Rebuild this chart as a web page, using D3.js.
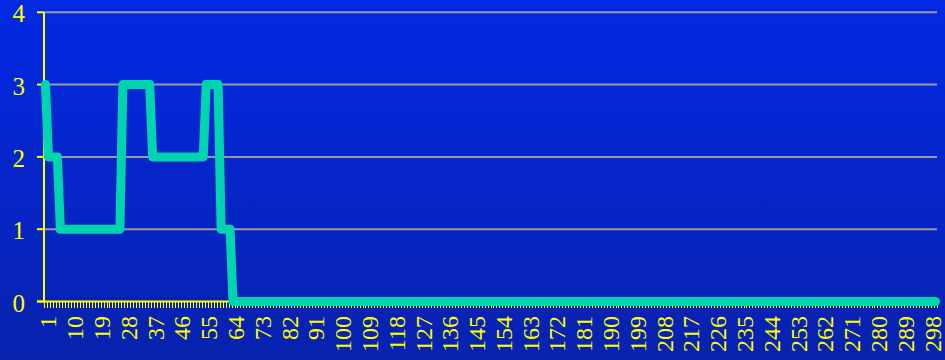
<!DOCTYPE html>
<html><head><meta charset="utf-8">
<script src="https://cdn.jsdelivr.net/npm/d3@7"></script>
<style>html,body{margin:0;padding:0;background:#0325d0;overflow:hidden}</style>
</head><body><svg id="c" width="945" height="360"></svg>
<script>
// ---- data ----
const categories = d3.range(1, 301);
const values = [
  3,2,2,2,2,1,1,1,1,1,
  1,1,1,1,1,1,1,1,1,1,
  1,1,1,1,1,1,3,3,3,3,
  3,3,3,3,3,3,2,2,2,2,
  2,2,2,2,2,2,2,2,2,2,
  2,2,2,2,3,3,3,3,3,1,
  1,1,1,0,0,0,0,0,0,0,
  0,0,0,0,0,0,0,0,0,0,
  0,0,0,0,0,0,0,0,0,0,
  0,0,0,0,0,0,0,0,0,0,
  0,0,0,0,0,0,0,0,0,0,
  0,0,0,0,0,0,0,0,0,0,
  0,0,0,0,0,0,0,0,0,0,
  0,0,0,0,0,0,0,0,0,0,
  0,0,0,0,0,0,0,0,0,0,
  0,0,0,0,0,0,0,0,0,0,
  0,0,0,0,0,0,0,0,0,0,
  0,0,0,0,0,0,0,0,0,0,
  0,0,0,0,0,0,0,0,0,0,
  0,0,0,0,0,0,0,0,0,0,
  0,0,0,0,0,0,0,0,0,0,
  0,0,0,0,0,0,0,0,0,0,
  0,0,0,0,0,0,0,0,0,0,
  0,0,0,0,0,0,0,0,0,0,
  0,0,0,0,0,0,0,0,0,0,
  0,0,0,0,0,0,0,0,0,0,
  0,0,0,0,0,0,0,0,0,0,
  0,0,0,0,0,0,0,0,0,0,
  0,0,0,0,0,0,0,0,0,0,
  0,0,0,0,0,0,0,0,0,0
];
const xTickLabels = [1,10,19,28,37,46,55,64,73,82,91,100,109,118,127,136,145,154,163,172,181,190,199,208,217,226,235,244,253,262,271,280,289,298];
const yTicks = [0,1,2,3,4];

// ---- layout ----
const W = 945, H = 360;
const svg = d3.select("#c");
const defs = svg.append("defs");
const grad = defs.append("linearGradient").attr("id","bg").attr("x1",0).attr("y1",0).attr("x2",0).attr("y2",1);
grad.append("stop").attr("offset","0%").attr("stop-color","#0329e4");
grad.append("stop").attr("offset","100%").attr("stop-color","#0822ae");
svg.append("rect").attr("width",W).attr("height",H).attr("fill","url(#bg)");

const x = d3.scaleBand().domain(categories).range([44, 937]);
const y = d3.scaleLinear().domain([0, 4]).range([301.5, 12.3]);
const yellow = "#ffff00";
const font = "'Liberation Serif','Times New Roman',serif";

// gridlines
svg.append("g").selectAll("line").data(yTicks.filter(d => d > 0)).join("line")
  .attr("x1", 44).attr("x2", 937)
  .attr("y1", d => y(d)).attr("y2", d => y(d))
  .attr("stroke", "#9a9aa6").attr("stroke-width", 2);

// y ticks
svg.append("g").selectAll("line").data(yTicks).join("line")
  .attr("x1", 37).attr("x2", 44)
  .attr("y1", d => y(d)).attr("y2", d => y(d))
  .attr("stroke", yellow).attr("stroke-width", 2);
// y labels
svg.append("g").selectAll("text").data(yTicks).join("text")
  .attr("x", 25).attr("y", d => y(d) + 1.5)
  .attr("text-anchor", "end").attr("dominant-baseline", "central")
  .attr("fill", yellow).attr("font-family", font).attr("font-size", 25)
  .text(d => d);

// x minor ticks at category boundaries
const bounds = categories.map(c => x(c)).concat([x.range()[1]]);
svg.append("g").selectAll("line").data(bounds).join("line")
  .attr("x1", d => Math.round(d) + 0.5).attr("x2", d => Math.round(d) + 0.5)
  .attr("y1", 301.5).attr("y2", 308)
  .attr("stroke", yellow).attr("stroke-width", 1);

// axes lines
svg.append("line").attr("x1", 44).attr("x2", 44).attr("y1", 12.3).attr("y2", 302.5)
  .attr("stroke", yellow).attr("stroke-width", 2);
svg.append("line").attr("x1", 37).attr("x2", 937).attr("y1", 301.5).attr("y2", 301.5)
  .attr("stroke", yellow).attr("stroke-width", 2);

// x labels
svg.append("g").selectAll("text").data(xTickLabels).join("text")
  .attr("transform", d => `translate(${x(d) + x.bandwidth()/2 + 3},316) rotate(-90)`)
  .attr("text-anchor", "end").attr("dominant-baseline", "central")
  .attr("fill", yellow).attr("font-family", font).attr("font-size", 24)
  .text(d => d);

// line
const line = d3.line()
  .x((d, i) => x(categories[i]) + x.bandwidth()/2)
  .y(d => y(d));
svg.append("path").datum(values)
  .attr("d", line)
  .attr("fill", "none")
  .attr("stroke", "#00d4ae")
  .attr("stroke-width", 9)
  .attr("stroke-linejoin", "round")
  .attr("stroke-linecap", "round");
</script>
</body></html>
